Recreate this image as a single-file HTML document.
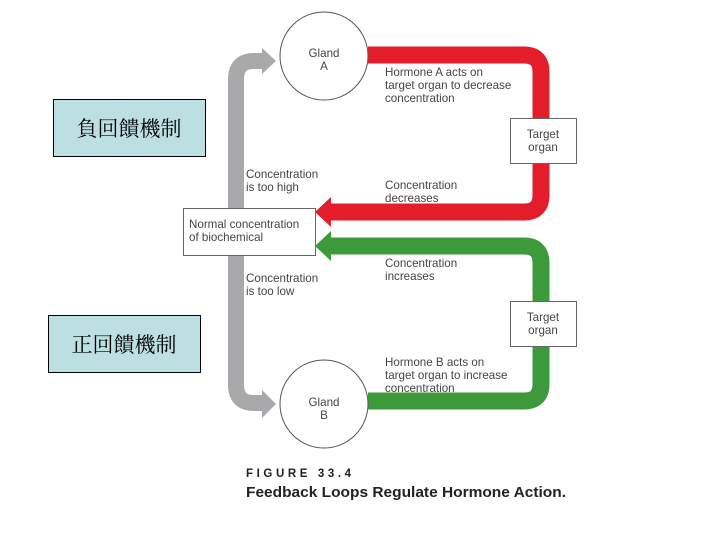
<!DOCTYPE html>
<html><head><meta charset="utf-8"><style>
body{margin:0;background:#fff;width:720px;height:540px;overflow:hidden}
svg{display:block}
.t{font-family:"Liberation Sans",sans-serif;font-size:11.6px;fill:#444}
.c{font-family:"Liberation Serif","Noto Serif CJK SC",serif;font-size:21px;fill:#000}
</style></head><body>
<svg width="720" height="540" xmlns="http://www.w3.org/2000/svg">
<path d="M263,61 H254 Q236,61 236,79 V385 Q236,403 254,403 H263" fill="none" stroke="#a9a9ab" stroke-width="16"/>
<polygon points="262,48 276,61 262,74" fill="#a9a9ab"/>
<polygon points="262,390 276,404 262,418" fill="#a9a9ab"/>
<path d="M368,55 H524 Q541,55 541,72 V195 Q541,212 524,212 H330" fill="none" stroke="#e31e2a" stroke-width="17"/>
<polygon points="331,197 315,212 331,227" fill="#e31e2a"/>
<path d="M330,246 H524 Q541,246 541,263 V384 Q541,401 524,401 H368" fill="none" stroke="#3d9a3a" stroke-width="17"/>
<polygon points="331,231 315,246 331,261" fill="#3d9a3a"/>
<circle cx="324" cy="56" r="44" fill="#fff" stroke="#555" stroke-width="1"/>
<circle cx="324" cy="404" r="44" fill="#fff" stroke="#555" stroke-width="1"/>
<text class="t" x="324" y="57" text-anchor="middle">Gland</text>
<text class="t" x="324" y="70" text-anchor="middle">A</text>
<text class="t" x="324" y="406" text-anchor="middle">Gland</text>
<text class="t" x="324" y="419" text-anchor="middle">B</text>
<rect x="510.5" y="118.5" width="66" height="45" fill="#fff" stroke="#666"/>
<text class="t" x="543" y="138" text-anchor="middle">Target</text>
<text class="t" x="543" y="151" text-anchor="middle">organ</text>
<rect x="510.5" y="301.5" width="66" height="45" fill="#fff" stroke="#666"/>
<text class="t" x="543" y="321" text-anchor="middle">Target</text>
<text class="t" x="543" y="334" text-anchor="middle">organ</text>
<rect x="183.5" y="208.5" width="132" height="47" fill="#fff" stroke="#666"/>
<text class="t" x="189" y="228">Normal concentration</text>
<text class="t" x="189" y="241">of biochemical</text>
<text class="t" x="385" y="76">Hormone A acts on</text>
<text class="t" x="385" y="89">target organ to decrease</text>
<text class="t" x="385" y="102">concentration</text>
<text class="t" x="246" y="178">Concentration</text>
<text class="t" x="246" y="191">is too high</text>
<text class="t" x="385" y="189">Concentration</text>
<text class="t" x="385" y="202">decreases</text>
<text class="t" x="385" y="267">Concentration</text>
<text class="t" x="385" y="280">increases</text>
<text class="t" x="246" y="282">Concentration</text>
<text class="t" x="246" y="295">is too low</text>
<text class="t" x="385" y="366">Hormone B acts on</text>
<text class="t" x="385" y="379">target organ to increase</text>
<text class="t" x="385" y="392">concentration</text>
<text x="246" y="477" font-family="Liberation Sans,sans-serif" font-weight="bold" font-size="11.5" letter-spacing="3.6" fill="#222">FIGURE 33.4</text>
<text x="246" y="497" font-family="Liberation Sans,sans-serif" font-weight="bold" font-size="15.2" fill="#222" textLength="320" lengthAdjust="spacingAndGlyphs">Feedback Loops Regulate Hormone Action.</text>
<rect x="53.5" y="99.5" width="152" height="57" fill="#bcdfe2" stroke="#000"/>
<text class="c" x="129" y="136" text-anchor="middle">負回饋機制</text>
<rect x="48.5" y="315.5" width="152" height="57" fill="#bcdfe2" stroke="#000"/>
<text class="c" x="124" y="352" text-anchor="middle">正回饋機制</text>
</svg>
</body></html>
